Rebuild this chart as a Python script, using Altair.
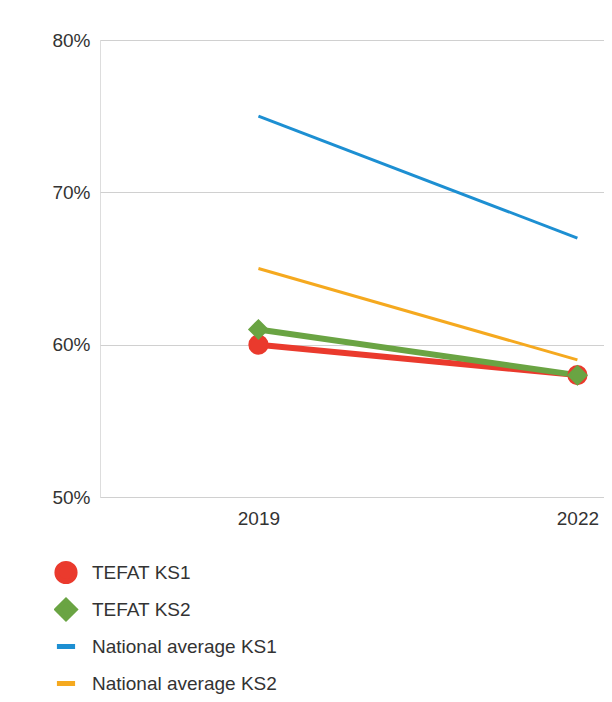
import altair as alt
import pandas as pd

years = [2019, 2022]
series_names = ["TEFAT KS1", "TEFAT KS2", "National average KS1", "National average KS2"]
tefat_ks1 = [0.60, 0.58]
tefat_ks2 = [0.61, 0.58]
nat_ks1 = [0.75, 0.67]
nat_ks2 = [0.65, 0.59]
colors = ["#ea3a2d", "#6aa443", "#1d8fd2", "#f5a91f"]
shapes = ["circle", "diamond", "stroke", "stroke"]

rows = []
for name, vals in [("National average KS1", nat_ks1), ("National average KS2", nat_ks2),
                   ("TEFAT KS1", tefat_ks1), ("TEFAT KS2", tefat_ks2)]:
    for y, v in zip(years, vals):
        rows.append({"year": y, "value": v, "series": name})
df = pd.DataFrame(rows)

font = "Liberation Sans"

x = alt.X("year:Q", title=None,
          scale=alt.Scale(domain=[2017.51, 2022.25], nice=False, zero=False),
          axis=alt.Axis(values=years, format="d", grid=False, domain=False, ticks=False,
                        labelFontSize=19, labelColor="#333", labelPadding=12, labelFont=font))
y = alt.Y("value:Q", title=None,
          scale=alt.Scale(domain=[0.5, 0.8], nice=False, zero=False),
          axis=alt.Axis(values=[0.5, 0.6, 0.7, 0.8], format=".0%", domain=False, ticks=False,
                        labelFontSize=19, labelColor="#333", labelPadding=10, labelFont=font,
                        gridColor="#d0d0d0", gridWidth=1))

legend = alt.Legend(title=None, orient="none", legendX=-46, legendY=514, direction="vertical",
                    labelFontSize=19, labelColor="#333", labelFont=font, symbolSize=330,
                    rowPadding=0, labelOffset=14, symbolStrokeWidth=5, labelLimit=400,
                    clipHeight=37)

color = alt.Color("series:N", scale=alt.Scale(domain=series_names, range=colors), legend=legend)

nat_filter = alt.FieldOneOfPredicate(field="series", oneOf=["National average KS1", "National average KS2"])
tefat_filter = alt.FieldOneOfPredicate(field="series", oneOf=["TEFAT KS1", "TEFAT KS2"])

nat_lines = alt.Chart(df).transform_filter(nat_filter).mark_line(strokeWidth=3).encode(
    x=x, y=y, color=color, order=alt.Order("year:Q"),
)
tefat_lines = alt.Chart(df).transform_filter(tefat_filter).mark_line(strokeWidth=6).encode(
    x=x, y=y, color=color, order=alt.Order("year:Q"),
)

pts = alt.Chart(df).transform_filter(tefat_filter).mark_point(
    filled=True, opacity=1, strokeWidth=2
).encode(
    x=x, y=y, color=color,
    stroke=alt.Stroke("series:N", scale=alt.Scale(domain=series_names, range=colors), legend=legend),
    shape=alt.Shape("series:N", scale=alt.Scale(domain=series_names, range=shapes), legend=legend),
    size=alt.value(330),
)

chart = alt.layer(nat_lines, tefat_lines, pts).properties(
    width=504, height=457,
    autosize=alt.AutoSizeParams(type="none"),
    padding={"left": 92, "top": 32, "right": 0, "bottom": 197},
).configure_view(stroke=None).configure(font=font)

chart.save("out.html", embed_options={"renderer": "svg", "actions": False})
